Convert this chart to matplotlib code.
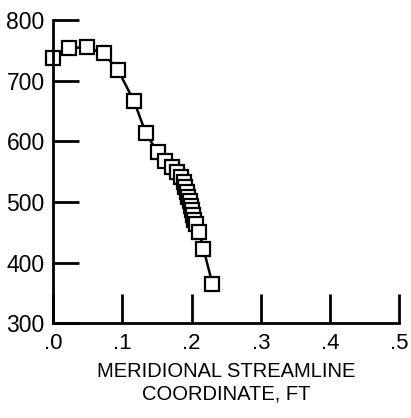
import matplotlib.pyplot as plt
import numpy as np

# meridional streamline coordinate, ft
x = [0.0, 0.023, 0.049, 0.073, 0.094, 0.117, 0.134, 0.151, 0.161, 0.171,
     0.179, 0.185, 0.189, 0.191, 0.193, 0.195, 0.197, 0.199, 0.200, 0.202,
     0.204, 0.206, 0.211, 0.217, 0.230]
y = [737, 754, 755, 745, 717, 666, 613, 582, 567, 557,
     549, 541, 533, 525, 516, 508, 501, 494, 487, 478,
     470, 463, 450, 423, 365]

xticks = [0.0, 0.1, 0.2, 0.3, 0.4, 0.5]
xlabels = ['.0', '.1', '.2', '.3', '.4', '.5']
yticks = [300, 400, 500, 600, 700, 800]

plt.rcParams['font.family'] = ['Liberation Sans', 'DejaVu Sans']

fig = plt.figure(figsize=(4.11, 4.18), dpi=100)
ax = fig.add_axes([0.129, 0.227, 0.843, 0.725])

ax.plot(x, y, '-', color='black', lw=1.8, marker='s', ms=10.5,
        mfc='white', mec='black', mew=1.6, clip_on=False)

ax.set_xlim(0, 0.5)
ax.set_ylim(300, 800)
ax.spines['top'].set_visible(False)
ax.spines['right'].set_visible(False)
for s in ['left', 'bottom']:
    ax.spines[s].set_linewidth(2)

ax.set_xticks(xticks)
ax.set_xticklabels(xlabels)
ax.set_yticks(yticks)
ax.tick_params(axis='x', direction='in', length=21, width=2, pad=7, labelsize=16)
ax.tick_params(axis='y', direction='in', length=19, width=2, pad=6, labelsize=16.5)

ax.set_xlabel('MERIDIONAL STREAMLINE\nCOORDINATE, FT', fontsize=14.5, labelpad=6,
              linespacing=1.25)

fig.savefig('out.png', dpi=100)
